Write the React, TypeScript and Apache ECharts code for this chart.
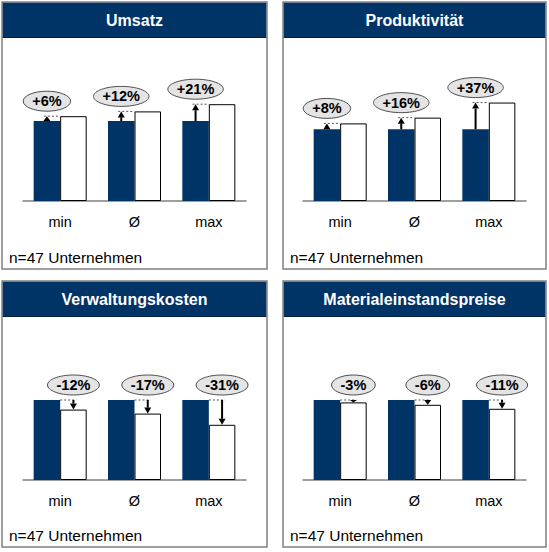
import React, { useEffect, useRef } from "react";
import * as echarts from "echarts";

const CATEGORIES = ["min", "Ø", "max"];
const TITLES = ["Umsatz", "Produktivität", "Verwaltungskosten", "Materialeinstandspreise"];
const BASE_VALUES = [100, 100, 100];
const UMSATZ = [6, 12, 21];
const PRODUKTIVITAET = [8, 16, 37];
const VERWALTUNGSKOSTEN = [-12, -17, -31];
const MATERIALPREISE = [-3, -6, -11];
const CHANGES = [UMSATZ, PRODUKTIVITAET, VERWALTUNGSKOSTEN, MATERIALPREISE];
const FOOTNOTE = "n=47 Unternehmen";

const FONT = "'Liberation Sans', Arial, Helvetica, sans-serif";
const NAVY = "#003366";
const BAR_W = 26.5;
const LABEL_FONT = `bold 14.5px ${FONT}`;

const PANELS = [
  { x: 2, y: 2, w: 265, h: 267, gridLeft: 23, gridTop: 81, yMax: 150 },
  { x: 283, y: 2, w: 263, h: 267, gridLeft: 303, gridTop: 81, yMax: 167 },
  { x: 2, y: 281, w: 265, h: 266, gridLeft: 23, gridTop: 360, yMax: 150 },
  { x: 283, y: 281, w: 263, h: 266, gridLeft: 303, gridTop: 360, yMax: 150 },
];

let measureCtx: CanvasRenderingContext2D | null = null;
function textWidth(t: string): number {
  if (!measureCtx) {
    const c = document.createElement("canvas");
    measureCtx = c.getContext("2d");
  }
  if (!measureCtx) return t.length * 9;
  measureCtx.font = LABEL_FONT;
  return measureCtx.measureText(t).width;
}

function fmtPct(v: number): string {
  return (v > 0 ? "+" : "") + v + "%";
}

export default function App() {
  const ref = useRef<HTMLDivElement>(null);

  useEffect(() => {
    if (!ref.current) return;
    const chart = echarts.init(ref.current, undefined, { renderer: "svg" });

    const grids: any[] = [];
    const xAxes: any[] = [];
    const yAxes: any[] = [];
    const series: any[] = [];
    const graphics: any[] = [];

    PANELS.forEach((p, i) => {
      grids.push({ left: p.gridLeft, top: p.gridTop, width: 223, height: 120 });
      xAxes.push({
        type: "category",
        gridIndex: i,
        data: CATEGORIES,
        axisTick: { show: false },
        axisLine: { lineStyle: { color: "#808080", width: 1.5 } },
        axisLabel: { margin: 13, fontSize: 14.5, color: "#000", fontFamily: FONT },
      });
      yAxes.push({
        type: "value",
        gridIndex: i,
        min: 0,
        max: p.yMax,
        show: false,
        splitLine: { show: false },
      });
      const changes = CHANGES[i];
      series.push({
        type: "bar",
        xAxisIndex: i,
        yAxisIndex: i,
        data: BASE_VALUES,
        barWidth: BAR_W,
        barGap: "0%",
        itemStyle: { color: NAVY },
        silent: true,
      });
      series.push({
        type: "bar",
        xAxisIndex: i,
        yAxisIndex: i,
        data: BASE_VALUES.map((b, k) => b + changes[k]),
        barWidth: BAR_W,
        barGap: "0%",
        itemStyle: { color: "#ffffff", borderColor: "#000", borderWidth: 1 },
        silent: true,
      });
      series.push({
        type: "custom",
        xAxisIndex: i,
        yAxisIndex: i,
        z: 5,
        clip: false,
        silent: true,
        data: changes.map((c, k) => [k, c]),
        renderItem: (_params: any, api: any) => {
          const cat = api.value(0);
          const pct = api.value(1);
          const base = api.coord([cat, 100]);
          const after = api.coord([cat, 100 + pct]);
          const cx = base[0];
          const up = pct > 0;
          const ax = up ? cx - BAR_W / 2 : cx + BAR_W / 2;
          const yBase = base[1];
          const yAfter = after[1];
          const lineY = up ? yAfter : yBase;
          const dir = up ? -1 : 1;
          const dist = Math.abs(yAfter - yBase);
          const head = Math.min(6, dist);
          const headBaseY = yAfter - dir * head;
          const label = fmtPct(pct);
          const tw = textWidth(label);
          const cy = lineY - 15;
          const children: any[] = [
            {
              type: "line",
              shape: up
                ? { x1: ax - 3, y1: lineY, x2: cx, y2: lineY }
                : { x1: cx, y1: lineY, x2: ax + 3, y2: lineY },
              style: { stroke: "#555", lineWidth: 1, lineDash: [2, 2] },
            },
          ];
          if (dist > head + 0.5) {
            children.push({
              type: "line",
              shape: { x1: ax, y1: yBase, x2: ax, y2: headBaseY },
              style: { stroke: "#000", lineWidth: 2 },
            });
          }
          children.push({
            type: "polygon",
            shape: {
              points: [
                [ax, yAfter],
                [ax - 3.5, headBaseY],
                [ax + 3.5, headBaseY],
              ],
            },
            style: { fill: "#000" },
          });
          children.push({
            type: "ellipse",
            shape: { cx: ax, cy, rx: tw / 2 + 9, ry: 10 },
            style: { fill: "#e4e4e4", stroke: "#4d4d4d", lineWidth: 1 },
          });
          children.push({
            type: "text",
            style: {
              text: label,
              x: ax,
              y: cy,
              align: "center",
              verticalAlign: "middle",
              fill: "#000",
              font: LABEL_FONT,
            },
          });
          return { type: "group", children };
        },
      });

      graphics.push({
        type: "rect",
        shape: { x: p.x, y: p.y, width: p.w, height: p.h },
        style: { fill: "#fff", stroke: "#808080", lineWidth: 1.5 },
        z: -10,
      });
      graphics.push({
        type: "rect",
        shape: { x: p.x + 0.75, y: p.y + 0.75, width: p.w - 1.5, height: 34.5 },
        style: { fill: NAVY },
        z: -9,
      });
      graphics.push({
        type: "line",
        shape: { x1: p.x + 0.75, y1: p.y + 35.5, x2: p.x + p.w - 0.75, y2: p.y + 35.5 },
        style: { stroke: "#00213f", lineWidth: 1.2 },
        z: -8,
      });
      graphics.push({
        type: "text",
        style: {
          text: TITLES[i],
          x: p.x + p.w / 2,
          y: p.y + 18,
          align: "center",
          verticalAlign: "middle",
          textAlign: "center",
          textVerticalAlign: "middle",
          fill: "#fff",
          font: `bold 16px ${FONT}`,
        },
        z: -7,
      });
      graphics.push({
        type: "text",
        style: {
          text: FOOTNOTE,
          x: p.x + 7,
          y: p.y + p.h - 12,
          align: "left",
          verticalAlign: "middle",
          textAlign: "left",
          textVerticalAlign: "middle",
          fill: "#000",
          font: `15.5px ${FONT}`,
        },
        z: -7,
      });
    });

    chart.setOption({
      animation: false,
      backgroundColor: "#fff",
      grid: grids,
      xAxis: xAxes,
      yAxis: yAxes,
      series,
      graphic: { elements: graphics },
    });

    return () => chart.dispose();
  }, []);

  return (
    <div
      ref={ref}
      style={{ position: "absolute", left: 0, top: 0, width: 549, height: 552 }}
    />
  );
}
